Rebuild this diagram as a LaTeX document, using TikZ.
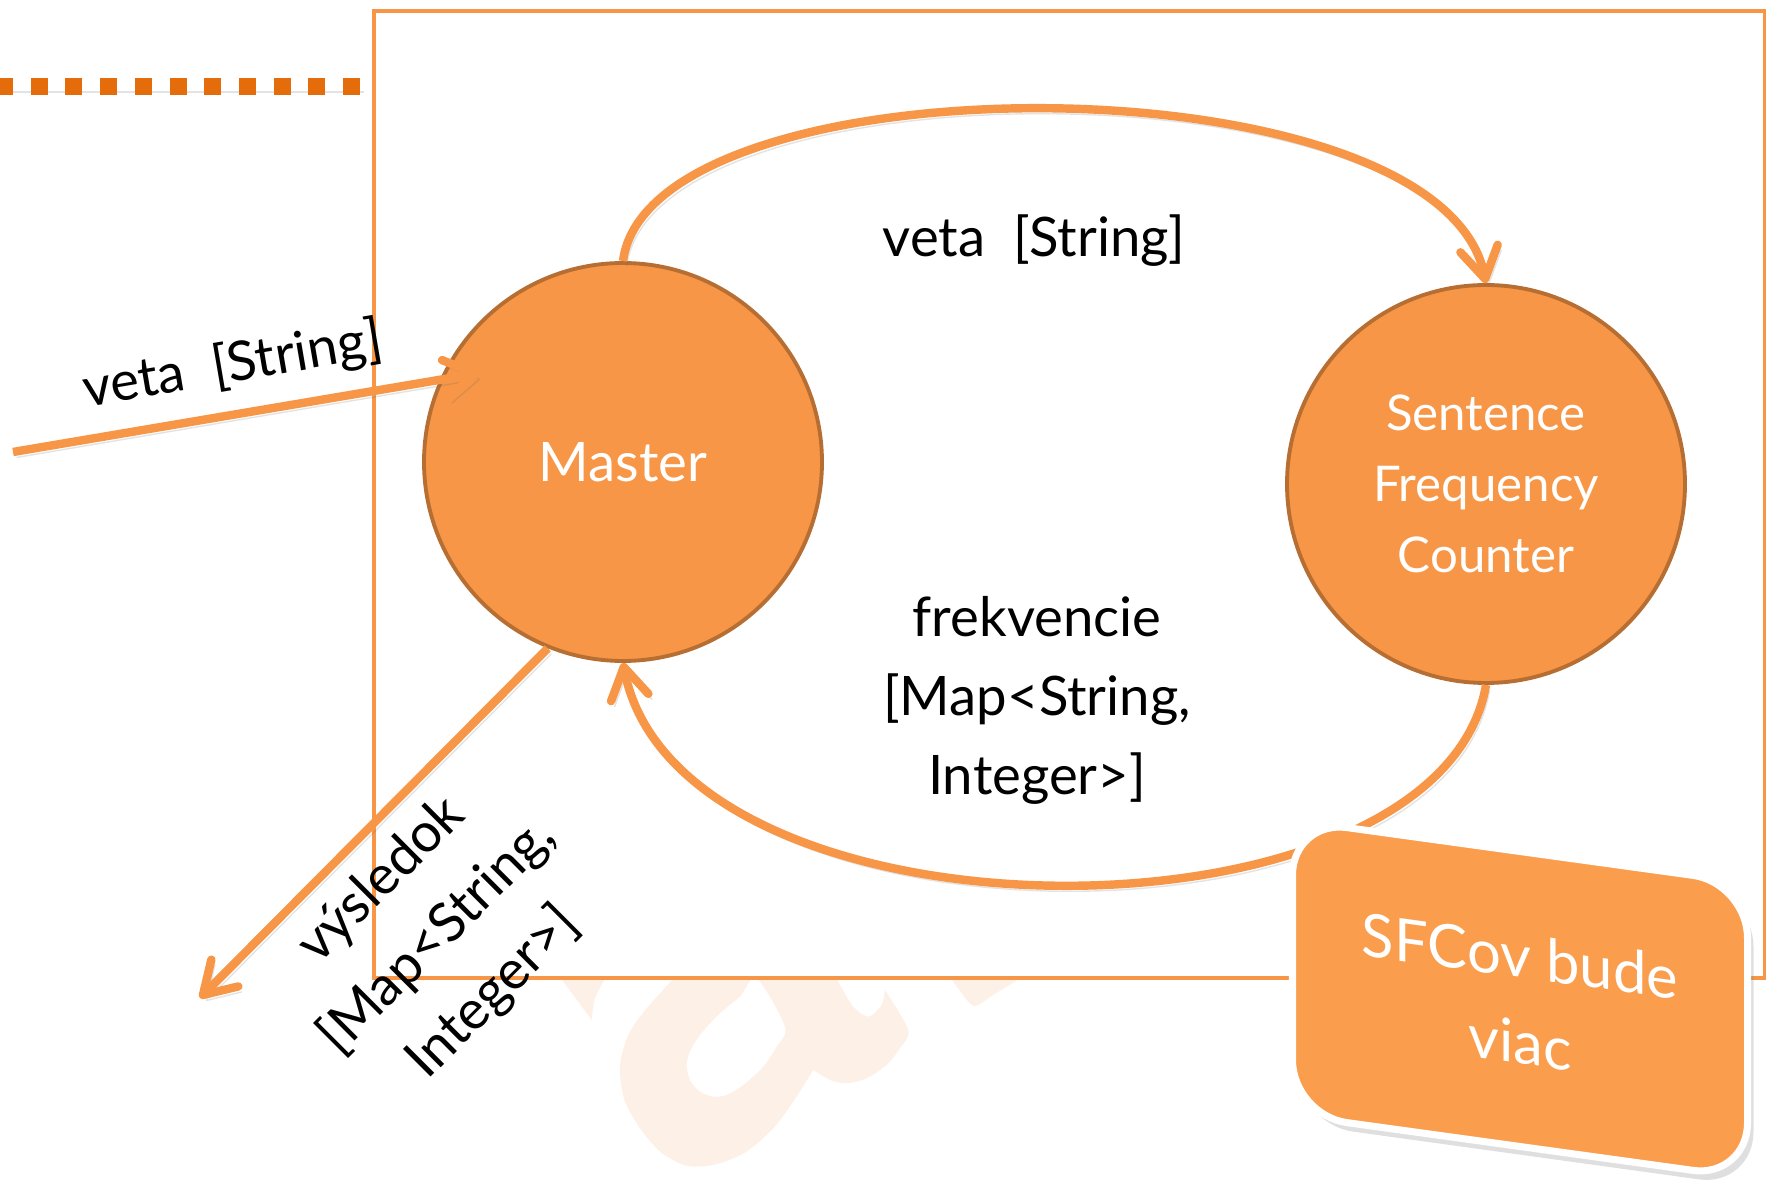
\documentclass[tikz,border=0pt]{standalone}
\usepackage{fontspec}
\setmainfont{Lato}
\usepackage{tikz}
\usetikzlibrary{arrows.meta,calc,positioning,shadows}
\definecolor{mainorange}{RGB}{247,150,70}
\definecolor{edgeorange}{RGB}{183,110,50}
\definecolor{dotorange}{RGB}{228,108,10}
\definecolor{boxorange}{RGB}{250,157,76}
\definecolor{markpeach}{RGB}{253,240,231}

\begin{document}
\begin{tikzpicture}[
  aktor/.style={circle,fill=mainorange,draw=edgeorange,line width=1.1pt,
    minimum size=3.98cm,inner sep=0pt,text=white,align=center},
  tien/.style={preaction={draw=black!60,opacity=0.18,
    transform canvas={shift={(0.35mm,-0.55mm)}}}},
  tok/.style={tien,mainorange,line width=2.4pt,
    -{Straight Barb[length=3.1mm,width=3.8mm,round]}},
  popis/.style={align=center,font=\fontsize{15.5}{22.5}\selectfont},
  ramec/.style={draw=mainorange,fill=white,line width=1.4pt},
  poznamka/.style={rectangle,rounded corners=0.55cm,fill=boxorange,draw=white,
    line width=2pt,minimum width=4.55cm,minimum height=2.95cm,text=white,
    align=center,font=\fontsize{17}{24.5}\selectfont,
    drop shadow={opacity=0.25,shadow xshift=0.6mm,shadow yshift=-0.9mm}}
]
  \useasboundingbox (0,0) rectangle (17.66,11.83);

  % watermark letters, only the part below the frame shows
  \begin{scope}[shift={(5.40,2.08)},x=0.03333mm,y=-0.03333mm]
    \fill[markpeach] (55,0) -- (155,135) -- plot[smooth] coordinates {(155,135) (165,70) (190,20) (200,0)} -- cycle;
    \fill[markpeach,even odd rule]
      (410,0) -- (895,0) -- plot[smooth] coordinates {(895,20) (940,95) (985,125) (1025,90) (1035,45)}
      -- plot[smooth] coordinates {(1035,45) (1105,165) (1080,220) (1040,270) (980,310) (920,325) (870,315) (820,285)}
      -- plot[smooth] coordinates {(820,285) (760,380) (700,460) (620,530) (540,565) (480,575) (430,570) (360,530)
           (300,460) (255,380) (240,300) (245,240) (270,170) (320,100) (410,0)} -- cycle
      plot[smooth cycle] coordinates {(650,10) (735,155) (710,215) (670,275) (610,330) (560,360) (520,365)
           (480,350) (450,315) (440,270) (450,230) (480,180) (540,115) (600,65)};
    \fill[markpeach] (1225,0) -- plot[smooth] coordinates {(1240,20) (1285,80) (1310,92) (1360,60) (1425,20)}
      -- (1450,0) -- cycle;
  \end{scope}

  \draw[ramec] (3.74,2.05) rectangle (17.65,11.72);
  \draw[tien,dotorange,line width=0.17cm,dash pattern=on 0.17cm off 0.177cm] (3.60,10.965) -- (-0.3,10.965);

  \node[aktor,font=\fontsize{15.5}{18}\selectfont] (master) at (6.23,7.21) {Master};
  \node[aktor,font=\fontsize{14}{20.2}\selectfont] (sfc) at (14.86,6.99) {Sentence\\Frequency\\Counter};

  \draw[tok] (master.north) .. controls (6.50,11.28) and (14.40,11.28) .. (sfc.north);
  \draw[tok] (sfc.south) .. controls (14.40,2.28) and (6.80,2.28) .. (master.south);

  % input and result
  \coordinate (vstup) at (0.13,7.31);
  \coordinate (vstupHrot) at ($(master.center)+(-1.43,0.89)$);
  \coordinate (vystup) at (2.00,1.85);
  \draw[tok] (vstup) -- (vstupHrot);
  \draw[tok] (master.248) -- (vystup);

  \node[popis,rotate=9.7] (vetaVstup) at (2.33,8.17) {veta~~[String]};
  \node[popis,anchor=base] (vetaHore) at (10.34,9.26) {veta~~[String]};
  \node[popis] (frekvencie) at (10.37,4.83) {frekvencie\\{[}Map<String,\\Integer>{]}};
  \node[popis,rotate=45] (vysledok) at (4.38,2.46) {výsledok\\{[}Map<String,\\Integer>{]}};

  \begin{scope}[shift={(15.20,1.84)},yslant=-0.138]
    \node[poznamka,transform shape] (sfcov) {SFCov bude\\viac};
  \end{scope}
\end{tikzpicture}
\end{document}
